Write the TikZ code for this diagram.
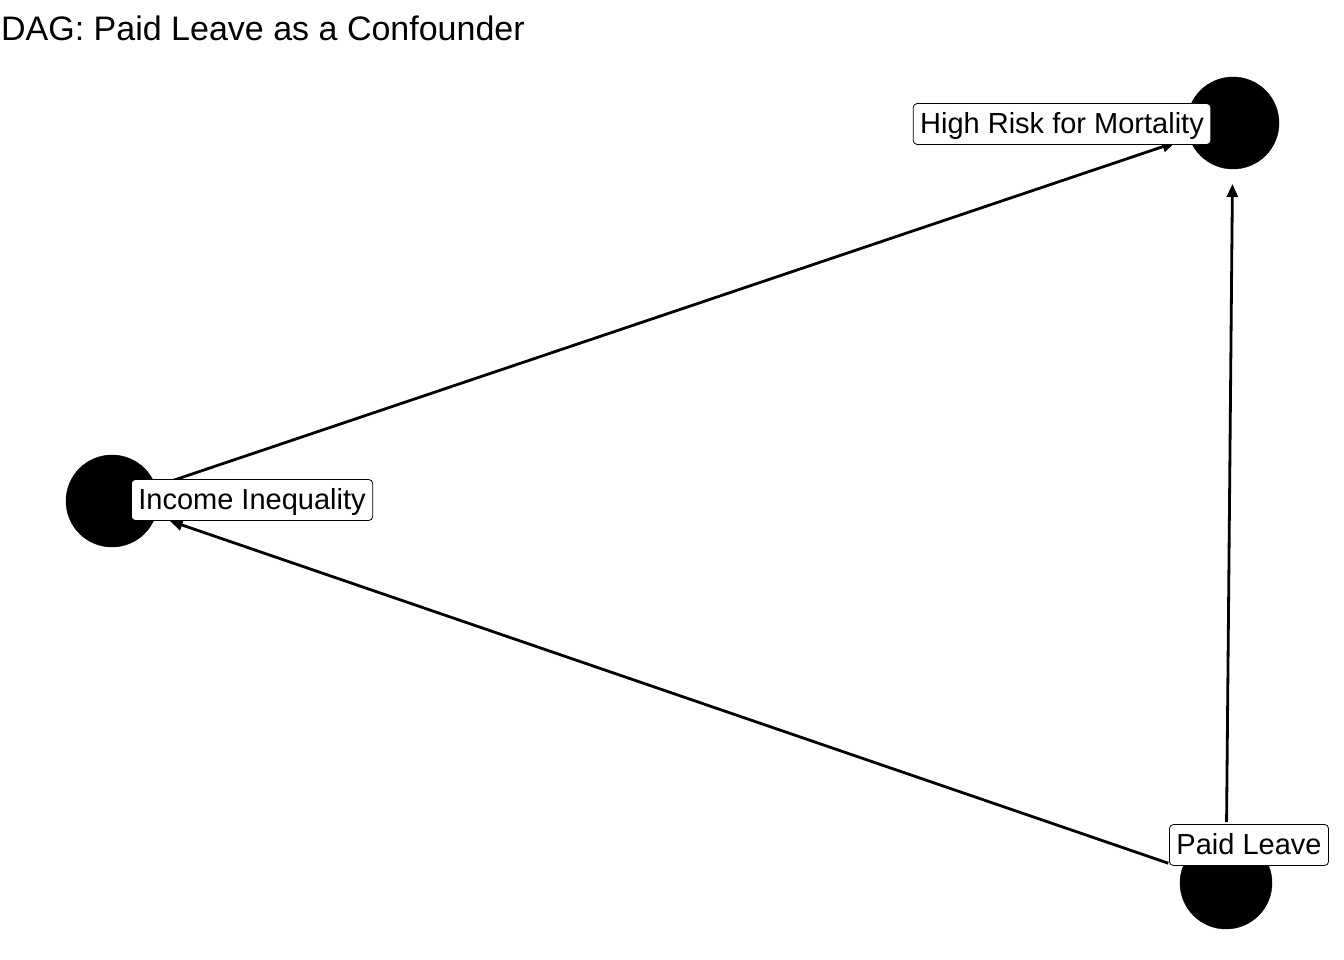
\documentclass[tikz,border=0pt]{standalone}
\usepackage{fontspec}
\setmainfont{Liberation Sans}
\usetikzlibrary{arrows.meta}
\begin{document}
\begin{tikzpicture}[x=1pt,y=-1pt,
  dot/.style={circle,fill=black,draw=black,minimum size=92pt,inner sep=0pt,outer sep=15pt},
  lab/.style={draw=black,fill=white,rounded corners=4pt,line width=0.8pt,inner xsep=7pt,inner ysep=9pt,text height=21pt,text depth=2pt,font=\fontsize{29}{32}\selectfont},
  arr/.style={line width=2.8pt,-{Triangle[length=13pt,width=11pt]}}]
\useasboundingbox (0,0) rectangle (1344,960);
\node[anchor=base west,inner sep=0pt,font=\fontsize{34}{38}\selectfont] (title) at (1,41) {DAG: Paid Leave as a Confounder};
\node[dot] (hr) at (1233,123) {};
\node[dot] (ii) at (112,501) {};
\node[dot] (pl) at (1226,883) {};
\draw[arr] (ii) -- (hr);
\draw[arr] (pl) -- (ii);
\draw[arr] (pl) -- (hr);
\node[lab] (hrl) at (1062,124) {High Risk for Mortality};
\node[lab] (iil) at (252,500) {Income Inequality};
\node[lab] (pll) at (1249,845) {Paid Leave};
\end{tikzpicture}
\end{document}
